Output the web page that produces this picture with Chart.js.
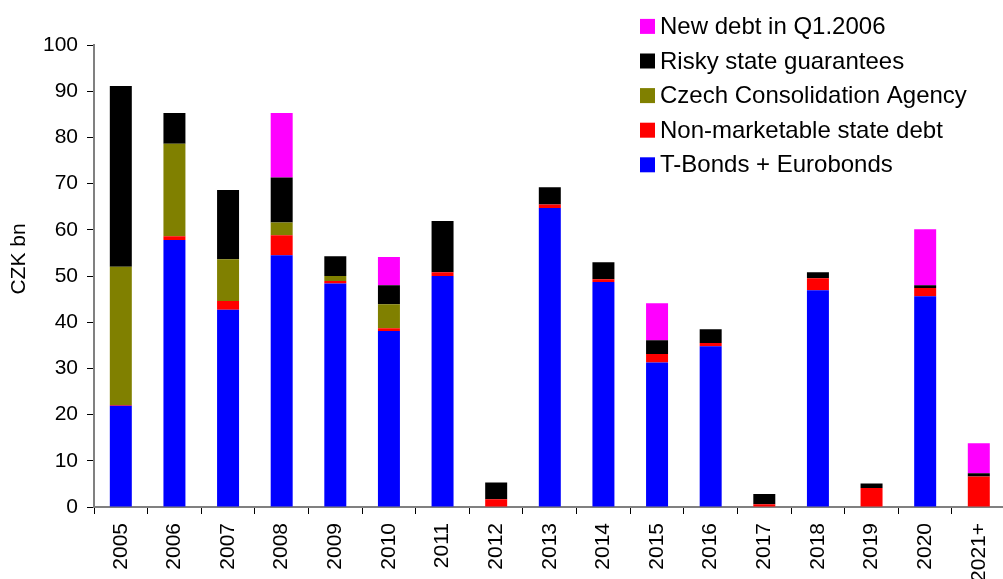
<!DOCTYPE html>
<html>
<head>
<meta charset="utf-8">
<script src="https://cdn.jsdelivr.net/npm/chart.js@4"></script>
<style>
html,body{margin:0;padding:0;background:#fff;overflow:hidden;}
#wrap{width:1013px;height:579px;position:relative;}
</style>
</head>
<body>
<div id="wrap"><canvas id="c" width="1013" height="579"></canvas></div>
<script>
const categories = ['2005','2006','2007','2008','2009','2010','2011','2012','2013','2014','2015','2016','2017','2018','2019','2020','2021+'];
const tBonds      = [21.9, 57.8, 42.7, 54.5, 48.4, 38.1, 50.0, 0,   64.7, 48.7, 31.3, 34.8, 0,   46.9, 0,   45.6, 0];
const nonMarket   = [0.2,  0.8,  1.9,  4.3,  0.5,  0.6,  0.8,  1.7, 0.8,  0.6,  1.8,  0.7,  0.6, 2.6,  4.1, 1.8,  6.6];
const consolAgency= [29.9, 20.0, 9.0,  2.8,  1.1,  5.2,  0,    0,   0,    0,    0,    0,    0,   0,    0,   0,    0];
const riskyGuar   = [39.1, 6.7,  15.0, 9.7,  4.3,  4.1,  11.1, 3.6, 3.7,  3.7,  3.0,  3.0,  2.2, 1.3,  1.0, 0.6,  0.7];
const newDebt     = [0,    0,    0,    14.0, 0,    6.1,  0,    0,   0,    0,    8.0,  0,    0,   0,    0,   12.1, 6.5];
const yTicks = [0,10,20,30,40,50,60,70,80,90,100];

const FONT = '"Liberation Sans", Arial, sans-serif';

const customDraw = {
  id: 'customDraw',
  afterDraw(chart) {
    const ctx = chart.ctx;
    ctx.save();
    // y-axis title
    ctx.fillStyle = '#000';
    ctx.font = '21px ' + FONT;
    ctx.translate(19, 259);
    ctx.rotate(-Math.PI/2);
    ctx.textAlign = 'center';
    ctx.textBaseline = 'middle';
    ctx.fillText('CZK bn', 0, 0);
    ctx.restore();
    // legend (reverse order)
    ctx.save();
    ctx.font = '24px ' + FONT;
    ctx.textBaseline = 'middle';
    ctx.textAlign = 'left';
    const ds = chart.data.datasets.slice().reverse();
    ds.forEach((d, i) => {
      const cy = 26.4 + i * 34.6;
      ctx.fillStyle = d.backgroundColor;
      ctx.fillRect(640, cy - 7.5, 15, 15);
      ctx.fillStyle = '#000';
      ctx.fillText(d.label, 660, cy + 1);
    });
    ctx.restore();
  }
};

new Chart(document.getElementById('c'), {
  type: 'bar',
  data: {
    labels: categories,
    datasets: [
      {label: 'T-Bonds + Eurobonds', data: tBonds, backgroundColor: '#0000FF'},
      {label: 'Non-marketable state debt', data: nonMarket, backgroundColor: '#FF0000'},
      {label: 'Czech Consolidation Agency', data: consolAgency, backgroundColor: '#808000'},
      {label: 'Risky state guarantees', data: riskyGuar, backgroundColor: '#000000'},
      {label: 'New debt in Q1.2006', data: newDebt, backgroundColor: '#FF00FF'}
    ]
  },
  options: {
    responsive: false,
    animation: false,
    layout: {padding: {top: 45, left: 0, right: 0, bottom: 0}},
    datasets: {bar: {barPercentage: 0.41, categoryPercentage: 1.0, borderWidth: 0}},
    plugins: {legend: {display: false}, tooltip: {enabled: false}},
    scales: {
      x: {
        stacked: true,
        grid: {drawOnChartArea: false, drawTicks: true, tickLength: 7, color: '#000', offset: true},
        border: {color: '#808080', width: 2},
        ticks: {color: '#000', font: {family: FONT, size: 21}, minRotation: 90, maxRotation: 90, padding: 9, autoSkip: false},
        afterFit(s) { s.height = 72; }
      },
      y: {
        stacked: true,
        min: 0, max: 100,
        afterBuildTicks(s) { s.ticks = yTicks.map(v => ({value: v})); },
        grid: {drawOnChartArea: false, drawTicks: true, tickLength: 7, color: '#000'},
        border: {color: '#808080', width: 2},
        ticks: {color: '#000', font: {family: FONT, size: 21}, padding: 9},
        afterFit(s) { s.width = 94; }
      }
    }
  },
  plugins: [customDraw]
});
</script>
</body>
</html>
